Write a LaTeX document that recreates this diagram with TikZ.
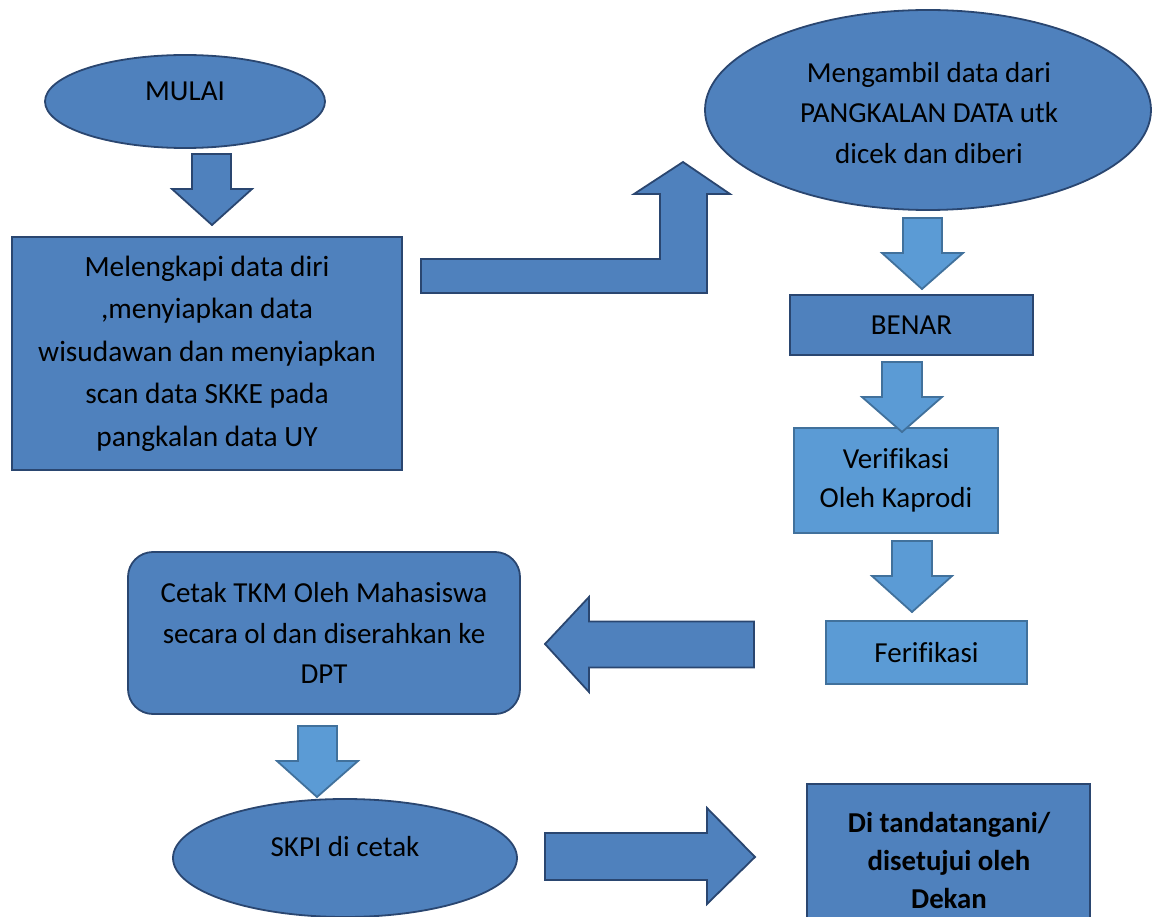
\documentclass[tikz,border=0pt]{standalone}
\usepackage{fontspec}
\setmainfont{Carlito}[Ligatures={NoCommon}]
\usetikzlibrary{shapes.geometric}
\definecolor{dfill}{HTML}{4F81BD}
\definecolor{dline}{HTML}{2A4670}
\definecolor{lfill}{HTML}{5B9BD5}
\definecolor{lline}{HTML}{41719C}
\tikzset{
  dk/.style={fill=dfill, draw=dline, line width=1.8pt, line join=miter},
  lt/.style={fill=lfill, draw=lline, line width=1.8pt, line join=miter},
  txt/.style={font=\fontsize{29}{40.5}\selectfont, align=center, inner sep=0pt, text=black},
  boxd/.style={dk, rectangle, inner sep=0pt, txt},
  boxl/.style={lt, rectangle, inner sep=0pt, txt},
  ell/.style={dk, ellipse, inner sep=0pt},
}
\begin{document}
\begin{tikzpicture}[x=1pt,y=-1pt]
\useasboundingbox (0,0) rectangle (1152,917);
\clip (0,0) rectangle (1152,917);

% ellipses
\node[ell, minimum width=280pt, minimum height=93pt] (mulai) at (185,101.5) {};
\node[txt] (mulaiT) at (185,91) {MULAI};

\node[ell, minimum width=446pt, minimum height=200pt] (ambil) at (928,110) {};
\node[txt] (ambilT) at (929,113) {Mengambil data dari\\PANGKALAN DATA utk\\dicek dan diberi};

\node[ell, minimum width=344pt, minimum height=118pt] (skpi) at (345,858) {};
\node[txt] (skpiT) at (345,847) {SKPI di cetak};

% boxes
\node[boxd, minimum width=390pt, minimum height=233pt, font=\fontsize{29.4}{42.5}\selectfont] (data) at (207,353.5)
  {Melengkapi data diri\\,menyiapkan data\\wisudawan dan menyiapkan\\scan data SKKE pada\\pangkalan data UY};
\node[boxd, minimum width=243pt, minimum height=60pt] (benar) at (911.5,325) {BENAR};
\node[boxl, minimum width=204pt, minimum height=105pt, font=\fontsize{29}{39}\selectfont] (verif) at (896,480.5) {Verifikasi\\Oleh Kaprodi};
\node[boxl, minimum width=201pt, minimum height=63pt] (ferif) at (926.5,652.5) {Ferifikasi};
\node[boxd, rounded corners=25pt, minimum width=392pt, minimum height=162pt] (cetak) at (324,633)
  {Cetak TKM Oleh Mahasiswa\\secara ol dan diserahkan ke\\DPT};
\node[boxd, minimum width=283pt, minimum height=170pt] (dekan) at (948.5,869) {};
\node[txt, font=\bfseries\fontsize{28.8}{38}\selectfont] (dekanT) at (949,860) {Di tandatangani/\\disetujui oleh\\Dekan};

% block arrows
\filldraw[dk] (192,154) -- (231,154) -- (231,189) -- (252,189) -- (212,225) -- (172,189) -- (192,189) -- cycle;
\filldraw[dk] (421,259) -- (660,259) -- (660,194) -- (634,194) -- (683,162) -- (730,194) -- (707,194) -- (707,293) -- (421,293) -- cycle;
\filldraw[lt] (903,218) -- (942,218) -- (942,253) -- (963,253) -- (922,289) -- (882,253) -- (903,253) -- cycle;
\filldraw[lt] (882,362) -- (922,362) -- (922,397) -- (942,397) -- (902,432) -- (862,397) -- (882,397) -- cycle;
\filldraw[lt] (892,541) -- (932,541) -- (932,576) -- (952,576) -- (912,612) -- (872,576) -- (892,576) -- cycle;
\filldraw[dk] (754,621.5) -- (589,621.5) -- (589,597) -- (545,644) -- (589,692) -- (589,667.5) -- (754,667.5) -- cycle;
\filldraw[lt] (298,726) -- (337,726) -- (337,761) -- (358,761) -- (317,797) -- (277,761) -- (298,761) -- cycle;
\filldraw[dk] (545,833) -- (707,833) -- (707,808) -- (755,857) -- (707,904) -- (707,880) -- (545,880) -- cycle;
\end{tikzpicture}
\end{document}
